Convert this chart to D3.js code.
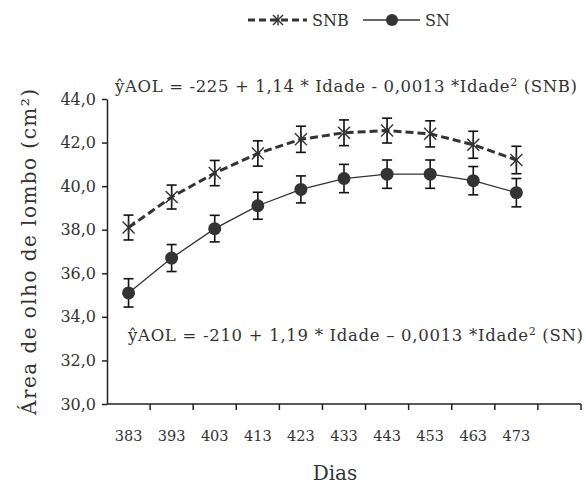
<!DOCTYPE html>
<html>
<head>
<meta charset="utf-8">
<script src="https://cdn.jsdelivr.net/npm/d3@7"></script>
<style>
  body { margin: 0; background: #fff; }
  svg text { font-family: "DejaVu Serif", serif; fill: #333; }
</style>
</head>
<body>
<div id="chart"></div>
<script>
// chart data
const dias = ["383", "393", "403", "413", "423", "433", "443", "453", "463", "473", ""];
const snb = [38.1, 39.5, 40.6, 41.5, 42.15, 42.45, 42.55, 42.4, 41.9, 41.2];
const snbErr = [0.57, 0.55, 0.58, 0.58, 0.6, 0.59, 0.57, 0.6, 0.62, 0.63];
const sn = [35.1, 36.7, 38.05, 39.1, 39.85, 40.35, 40.55, 40.55, 40.25, 39.7];
const snErr = [0.65, 0.62, 0.61, 0.62, 0.62, 0.65, 0.65, 0.65, 0.65, 0.65];
const yTicks = [30, 32, 34, 36, 38, 40, 42, 44];

const width = 586, height = 484;
const margin = {top: 99, right: 5, bottom: 80, left: 107};
const w = width - margin.left - margin.right;
const h = height - margin.top - margin.bottom;

const svg = d3.select("#chart").append("svg")
    .attr("width", width)
    .attr("height", height)
    .attr("font-family", "DejaVu Serif");

const g = svg.append("g")
    .attr("transform", `translate(${margin.left},${margin.top})`);

let x = d3.scaleBand()
    .domain(dias)
    .range([0, 474]);

let y = d3.scaleLinear()
    .domain([30, 44])
    .range([h, 0]);

const fmt = d => d.toFixed(1).replace(".", ",");

// y axis
const yAxis = g.append("g")
    .call(d3.axisLeft(y).tickValues(yTicks).tickSize(5).tickSizeOuter(0).tickPadding(6).tickFormat(fmt));
yAxis.attr("font-family", null);
yAxis.selectAll("text").style("font-size", "16px").attr("fill", "#333");
yAxis.select(".domain").attr("stroke", "#222").attr("stroke-width", 1.5);
yAxis.selectAll(".tick line").attr("stroke", "#222").attr("stroke-width", 1.5);

// x axis: ticks sit between categories
const xAxis = g.append("g")
    .attr("transform", `translate(0,${h})`);
xAxis.append("line")
    .attr("x1", 0).attr("x2", x.range()[1])
    .attr("stroke", "#222").attr("stroke-width", 1.5);
xAxis.selectAll(".xt").data(dias).enter()
    .append("line")
    .attr("x1", d => x(d) + x.bandwidth())
    .attr("x2", d => x(d) + x.bandwidth())
    .attr("y1", 0).attr("y2", 6)
    .attr("stroke", "#222").attr("stroke-width", 1.5);
xAxis.selectAll(".xl").data(dias).enter()
    .append("text")
    .attr("x", d => x(d) + x.bandwidth() / 2)
    .attr("y", 37)
    .style("text-anchor", "middle")
    .style("font-size", "14.5px")
    .text(d => d);

const cx = (d, i) => x(dias[i]) + x.bandwidth() / 2;

function errorBars(vals, errs) {
    const eb = g.append("g");
    vals.forEach((v, i) => {
        const xc = cx(v, i);
        eb.append("line").attr("x1", xc).attr("x2", xc)
            .attr("y1", y(v - errs[i])).attr("y2", y(v + errs[i]));
        eb.append("line").attr("x1", xc - 5).attr("x2", xc + 5)
            .attr("y1", y(v - errs[i])).attr("y2", y(v - errs[i]));
        eb.append("line").attr("x1", xc - 5).attr("x2", xc + 5)
            .attr("y1", y(v + errs[i])).attr("y2", y(v + errs[i]));
    });
    eb.selectAll("line").attr("stroke", "#111").attr("stroke-width", 1.6);
}

errorBars(snb, snbErr);
errorBars(sn, snErr);

const line = d3.line().x(cx).y(d => y(d));

// SNB dashed
g.append("path")
    .datum(snb)
    .attr("d", line)
    .attr("fill", "none")
    .attr("stroke", "#333")
    .attr("stroke-width", 3)
    .attr("stroke-dasharray", "8,4");

// SN solid
g.append("path")
    .datum(sn)
    .attr("d", line)
    .attr("fill", "none")
    .attr("stroke", "#333")
    .attr("stroke-width", 1.3);

function star(sel, xc, yc, r) {
    const s = sel.append("g").attr("transform", `translate(${xc},${yc})`);
    s.append("line").attr("x1", -r).attr("x2", r).attr("y1", -r).attr("y2", r);
    s.append("line").attr("x1", -r).attr("x2", r).attr("y1", r).attr("y2", -r);
    s.append("line").attr("x1", 0).attr("x2", 0).attr("y1", -r * 1.1).attr("y2", r * 1.1);
    s.selectAll("line").attr("stroke", "#333").attr("stroke-width", 1.4);
}

snb.forEach((v, i) => star(g, cx(v, i), y(v), 6));

g.selectAll(".dot").data(sn).enter()
    .append("circle")
    .attr("cx", cx)
    .attr("cy", d => y(d))
    .attr("r", 6.5)
    .attr("fill", "#333");

// equations
const eq1 = svg.append("text")
    .attr("x", 115).attr("y", 92)
    .attr("textLength", 462)
    .style("font-size", "16.5px");
eq1.append("tspan").text("ŷAOL = -225 + 1,14 * Idade - 0,0013 *Idade");
eq1.append("tspan").attr("baseline-shift", "super").style("font-size", "11px").text("2");
eq1.append("tspan").text(" (SNB)");

const eq2 = svg.append("text")
    .attr("x", 128).attr("y", 341)
    .attr("textLength", 455)
    .style("font-size", "16.5px");
eq2.append("tspan").text("ŷAOL = -210 + 1,19 * Idade – 0,0013 *Idade");
eq2.append("tspan").attr("baseline-shift", "super").style("font-size", "11px").text("2");
eq2.append("tspan").text(" (SN)");

// axis titles
svg.append("text")
    .attr("transform", `translate(36,252) rotate(-90)`)
    .style("text-anchor", "middle")
    .attr("textLength", 326)
    .style("font-size", "20px")
    .text("Área de olho de lombo (cm²)");

svg.append("text")
    .attr("x", 335).attr("y", 480)
    .style("text-anchor", "middle")
    .style("font-size", "20px")
    .text("Dias");

// legend
const lg = svg.append("g").attr("transform", "translate(0,20)");
lg.append("line").attr("x1", 248).attr("x2", 307)
    .attr("stroke", "#333").attr("stroke-width", 3).attr("stroke-dasharray", "7,4");
star(lg, 278, 0, 5);
lg.append("text").attr("x", 312).attr("y", 6).style("font-size", "16px").text("SNB");
lg.append("line").attr("x1", 363).attr("x2", 420)
    .attr("stroke", "#333").attr("stroke-width", 1.3);
lg.append("circle").attr("cx", 392).attr("cy", 0).attr("r", 6).attr("fill", "#333");
lg.append("text").attr("x", 425).attr("y", 6).style("font-size", "16px").text("SN");
</script>
</body>
</html>
